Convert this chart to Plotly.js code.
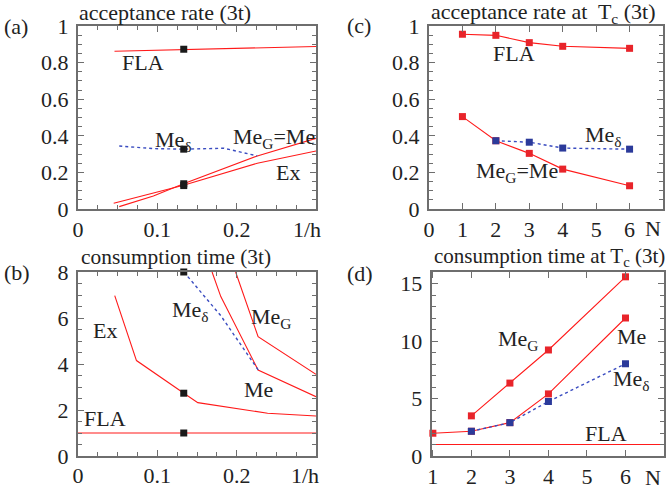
<!DOCTYPE html>
<html>
<head>
<meta charset="utf-8">
<script src="https://cdn.plot.ly/plotly-3.0.1.min.js"></script>
<style>html,body{margin:0;padding:0;background:#fff;}#chart{width:667px;height:490px;}</style>
</head>
<body>
<div id="chart"></div>
<script>
// ---------- Panel (a): acceptance rate (3t) vs 1/h ----------
const a_FLA_x = [0.046, 0.30];
const a_FLA_y = [0.862, 0.888];
const a_Med_x = [0.052, 0.095, 0.133, 0.184, 0.226];
const a_Med_y = [0.344, 0.330, 0.327, 0.332, 0.290];
const a_Me_x = [0.052, 0.095, 0.133, 0.226, 0.300];
const a_Me_y = [0.013, 0.071, 0.138, 0.290, 0.386];
const a_Ex_x = [0.045, 0.089, 0.133, 0.226, 0.300];
const a_Ex_y = [0.031, 0.082, 0.130, 0.250, 0.317];
const a_pts_x = [0.1333, 0.1333, 0.1333, 0.1333];
const a_pts_y = [0.873, 0.327, 0.128, 0.138];

// ---------- Panel (b): consumption time (3t) vs 1/h ----------
const b_FLA_x = [0.0, 0.30];
const b_FLA_y = [1.0, 1.0];
const b_Ex_x = [0.0463, 0.0737, 0.1335, 0.151, 0.239, 0.300];
const b_Ex_y = [6.97, 4.15, 2.73, 2.32, 1.86, 1.74];
const b_Me_x = [0.169, 0.180, 0.227, 0.300];
const b_Me_y = [8.0, 6.93, 3.74, 2.58];
const b_MeG_x = [0.1987, 0.227, 0.300];
const b_MeG_y = [8.0, 5.19, 3.55];
const b_Med_x = [0.1335, 0.180, 0.228];
const b_Med_y = [8.0, 6.1, 3.7];
const b_pts_x = [0.1333, 0.1333, 0.1333];
const b_pts_y = [8.0, 2.73, 1.0];

// ---------- Panel (c): acceptance rate at Tc (3t) vs N ----------
const c_N_FLA = [1, 2, 3, 4, 6];
const c_FLA = [0.955, 0.949, 0.909, 0.889, 0.878];
const c_N_Me = [1, 2, 3, 4, 6];
const c_Me = [0.505, 0.373, 0.304, 0.218, 0.127];
const c_N_Med = [2, 3, 4, 6];
const c_Med = [0.373, 0.365, 0.333, 0.327];

// ---------- Panel (d): consumption time at Tc (3t) vs N ----------
const d_N_MeG = [2, 3, 4, 6];
const d_MeG = [3.49, 6.34, 9.22, 15.58];
const d_N_Me = [1, 2, 3, 4, 6];
const d_Me = [1.98, 2.15, 2.9, 5.4, 12.0];
const d_N_Med = [2, 3, 4, 6];
const d_Med = [2.15, 2.9, 4.74, 8.02];
const d_FLA_x = [0.97, 7.0];
const d_FLA_y = [1.0, 1.0];

// tick labels (the axis-end labels "1/h" and "N" are drawn as annotations)
const hTickVals = [0, 0.1, 0.2, 0.3];
const hTickText = ['0', '0.1', '0.2', ''];
const cTickVals = [0, 1, 2, 3, 4, 5, 6, 7];
const cTickText = ['0', '1', '2', '3', '4', '5', '6', ''];
const dTickVals = [1, 2, 3, 4, 5, 6, 7];
const dTickText = ['1', '2', '3', '4', '5', '6', ''];
const hEndLabel = '1/h';
const nEndLabel = 'N';

const RED = '#ff1a1a';
const RED_M = '#e8242a';
const BLUE_L = '#3a4cc0';
const BLUE_M = '#2b3a9a';
const BLACK_M = '#1a1a1a';
const FONT = 'Liberation Serif';
const FS = 22;

function line(x, y, xa, ya, color, dash) {
  return {x: x, y: y, xaxis: xa, yaxis: ya, mode: 'lines', type: 'scatter',
    line: {color: color, width: dash ? 1.4 : 1.1, dash: dash || 'solid'}, hoverinfo: 'skip', showlegend: false};
}
function linemk(x, y, xa, ya, lcolor, mcolor, dash) {
  return {x: x, y: y, xaxis: xa, yaxis: ya, mode: 'lines+markers', type: 'scatter', cliponaxis: false,
    line: {color: lcolor, width: dash ? 1.4 : 1.1, dash: dash || 'solid'},
    marker: {symbol: 'square', size: 7, color: mcolor}, hoverinfo: 'skip', showlegend: false};
}
function pts(x, y, xa, ya, color) {
  return {x: x, y: y, xaxis: xa, yaxis: ya, mode: 'markers', type: 'scatter', cliponaxis: false,
    marker: {symbol: 'square', size: 7, color: color}, hoverinfo: 'skip', showlegend: false};
}

const traces = [
  line(a_FLA_x, a_FLA_y, 'x', 'y', RED),
  line(a_Ex_x, a_Ex_y, 'x', 'y', RED),
  line(a_Me_x, a_Me_y, 'x', 'y', RED),
  line(a_Med_x, a_Med_y, 'x', 'y', BLUE_L, 'dot'),
  pts(a_pts_x, a_pts_y, 'x', 'y', BLACK_M),

  linemk(c_N_FLA, c_FLA, 'x2', 'y2', RED, RED_M),
  linemk(c_N_Me, c_Me, 'x2', 'y2', RED, RED_M),
  linemk(c_N_Med, c_Med, 'x2', 'y2', BLUE_L, BLUE_M, 'dot'),

  line(b_FLA_x, b_FLA_y, 'x3', 'y3', RED),
  line(b_Ex_x, b_Ex_y, 'x3', 'y3', RED),
  line(b_Me_x, b_Me_y, 'x3', 'y3', RED),
  line(b_MeG_x, b_MeG_y, 'x3', 'y3', RED),
  line(b_Med_x, b_Med_y, 'x3', 'y3', BLUE_L, 'dot'),
  pts(b_pts_x, b_pts_y, 'x3', 'y3', BLACK_M),

  line(d_FLA_x, d_FLA_y, 'x4', 'y4', RED),
  linemk(d_N_MeG, d_MeG, 'x4', 'y4', RED, RED_M),
  linemk(d_N_Me, d_Me, 'x4', 'y4', RED, RED_M),
  linemk(d_N_Med, d_Med, 'x4', 'y4', BLUE_L, BLUE_M, 'dot')
];

const AXC = '#6e6e6e';
function ax(extra) {
  return Object.assign({
    showgrid: false, zeroline: false, showline: true, linecolor: AXC, linewidth: 2,
    mirror: 'allticks', ticks: 'inside', ticklen: 6, tickwidth: 1, tickcolor: AXC,
    tickfont: {family: FONT, size: FS, color: '#222'}, fixedrange: true, ticklabelstandoff: 3
  }, extra);
}
function minor(dt) {
  return {tickmode: 'linear', tick0: 0, dtick: dt, ticks: 'inside', ticklen: 4, tickcolor: AXC, tickwidth: 1, showgrid: false};
}

const W = 667, H = 490;
function px(v) { return v / W; }
function py(v) { return 1 - v / H; }

const layout = {
  width: W, height: H, margin: {l: 0, r: 0, t: 0, b: 0},
  paper_bgcolor: '#fff', plot_bgcolor: '#fff', showlegend: false,
  font: {family: FONT, size: FS, color: '#222'},
  xaxis: ax({domain: [px(78), px(316)], range: [0, 0.3], anchor: 'y', tickmode: 'array', tickvals: hTickVals, ticktext: hTickText, minor: minor(0.025), ticklabelstandoff: 0}),
  yaxis: ax({domain: [py(209), py(26)], range: [0, 1], anchor: 'x', tickmode: 'array', tickvals: [0, 0.2, 0.4, 0.6, 0.8, 1], minor: minor(0.05)}),
  xaxis2: ax({domain: [px(429), px(663)], range: [0, 7], anchor: 'y2', tickmode: 'array', tickvals: cTickVals, ticktext: cTickText, ticklabelstandoff: 0}),
  yaxis2: ax({domain: [py(209), py(26)], range: [0, 1], anchor: 'x2', tickmode: 'array', tickvals: [0, 0.2, 0.4, 0.6, 0.8, 1], minor: minor(0.05)}),
  xaxis3: ax({domain: [px(78), px(316)], range: [0, 0.3], anchor: 'y3', tickmode: 'array', tickvals: hTickVals, ticktext: hTickText, minor: minor(0.025), ticklabelstandoff: -1}),
  yaxis3: ax({domain: [py(456), py(272)], range: [0, 8], anchor: 'x3', tickmode: 'array', tickvals: [0, 2, 4, 6, 8], minor: minor(0.5)}),
  xaxis4: ax({domain: [px(431.7), px(664)], range: [0.97, 7], anchor: 'y4', tickmode: 'array', tickvals: dTickVals, ticktext: dTickText, ticklabelstandoff: 0}),
  yaxis4: ax({domain: [py(456), py(272)], range: [0, 16], anchor: 'x4', tickmode: 'array', tickvals: [0, 5, 10, 15], minor: minor(1)}),
  annotations: []
};

function note(text, x, y, xref, yref, xanchor, size) {
  layout.annotations.push({text: text, x: x, y: y, xref: xref, yref: yref, xanchor: xanchor || 'center', yanchor: 'middle',
    showarrow: false, font: {family: FONT, size: size || FS, color: '#222'}});
}
// titles and panel letters
note('acceptance rate (3t)', px(77), py(13), 'paper', 'paper', 'left');
note('acceptance rate at  T<sub>c</sub> (3t)', px(429), py(13), 'paper', 'paper', 'left');
note('consumption time (3t)', px(79), py(257), 'paper', 'paper', 'left', 21.4);
note('consumption time at T<sub>c</sub> (3t)', px(432), py(257), 'paper', 'paper', 'left', 21);
note('(a)', px(16), py(27), 'paper', 'paper');
note('(c)', px(359), py(26), 'paper', 'paper');
note('(b)', px(17), py(272), 'paper', 'paper');
note('(d)', px(360), py(273), 'paper', 'paper');
// axis-end labels
note(hEndLabel, px(307), py(229), 'paper', 'paper');
note(nEndLabel, px(653), py(228), 'paper', 'paper');
note(hEndLabel, px(305), py(475), 'paper', 'paper');
note(nEndLabel, px(653), py(477), 'paper', 'paper');
// panel (a) labels
note('FLA', 0.082, 0.798, 'x', 'y');
note('Me<sub>δ</sub>', 0.12, 0.37, 'x', 'y');
note('Me<sub>G</sub>=Me', 0.247, 0.39, 'x', 'y');
note('Ex', 0.265, 0.197, 'x', 'y');
// panel (c) labels
note('FLA', 2.53, 0.852, 'x2', 'y2');
note('Me<sub>δ</sub>', 5.23, 0.40, 'x2', 'y2');
note('Me<sub>G</sub>=Me', 2.62, 0.20, 'x2', 'y2');
// panel (b) labels
note('Ex', 0.034, 5.45, 'x3', 'y3');
note('FLA', 0.034, 1.64, 'x3', 'y3');
note('Me<sub>δ</sub>', 0.142, 6.3, 'x3', 'y3');
note('Me<sub>G</sub>', 0.243, 6.0, 'x3', 'y3');
note('Me', 0.228, 2.87, 'x3', 'y3');
// panel (d) labels
note('Me<sub>G</sub>', 3.22, 10.1, 'x4', 'y4');
note('Me', 6.16, 10.4, 'x4', 'y4');
note('Me<sub>δ</sub>', 6.16, 6.6, 'x4', 'y4');
note('FLA', 5.5, 1.92, 'x4', 'y4');

Plotly.newPlot('chart', traces, layout, {staticPlot: true, displayModeBar: false});
</script>
</body>
</html>
